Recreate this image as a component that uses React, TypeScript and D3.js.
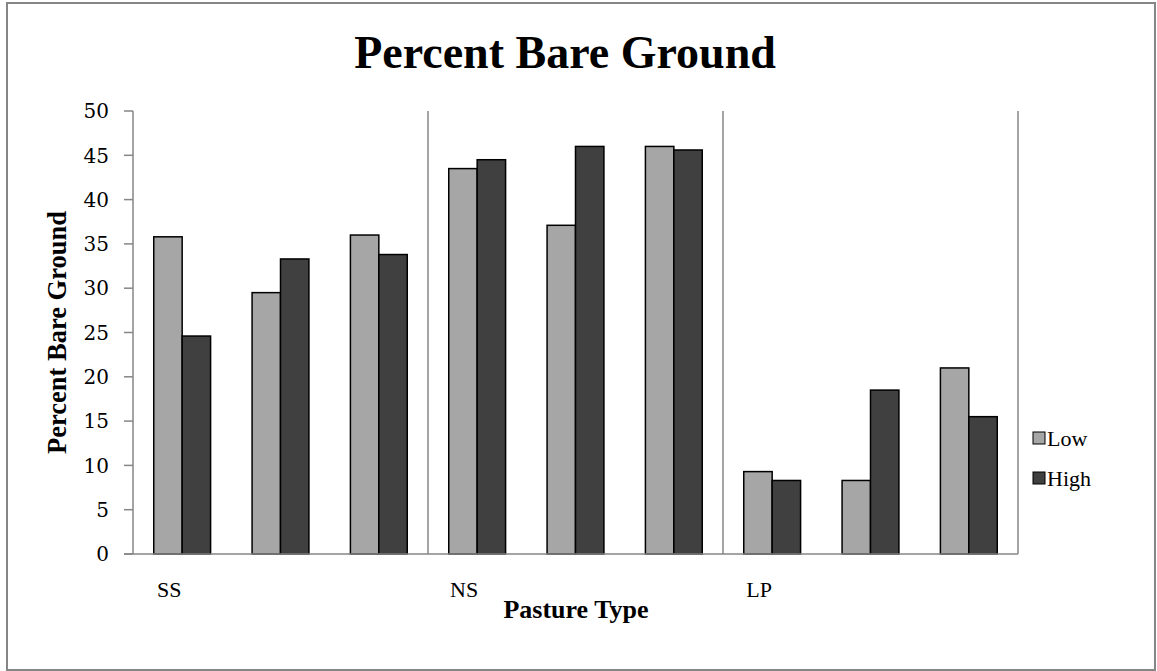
import React from "react";
import * as d3 from "d3";

const categoryLabels = ["SS", "", "", "NS", "", "", "LP", "", ""];
const lowValues = [35.8, 29.5, 36.0, 43.5, 37.1, 46.0, 9.3, 8.3, 21.0];
const highValues = [24.6, 33.3, 33.8, 44.5, 46.0, 45.6, 8.3, 18.5, 15.5];
const yTicks = [0, 5, 10, 15, 20, 25, 30, 35, 40, 45, 50];
const seriesNames = ["Low", "High"];
const seriesColors = ["#A6A6A6", "#404040"];

const W = 1157;
const H = 671;
const plot = { left: 133, right: 1018, top: 111, bottom: 554 };

export default function App() {
  const idx = categoryLabels.map((_, i) => i);
  const x = d3.scaleBand<number>().domain(idx).range([plot.left, plot.right]).paddingInner(0).paddingOuter(0);
  const inner = d3
    .scaleBand<number>()
    .domain([0, 1])
    .range([0, x.bandwidth()])
    .paddingOuter(0.73)
    .paddingInner(0);
  const y = d3.scaleLinear().domain([0, 50]).range([plot.bottom, plot.top]);
  const series = [lowValues, highValues];
  const sepIdx = idx.filter((i) => i % 3 === 0 && i > 0);
  const serif = "'Liberation Serif', 'Times New Roman', serif";
  const tickFont = "'DejaVu Serif', serif";
  const axisColor = "#868686";

  return (
    <svg width={W} height={H} style={{ position: "absolute", left: 0, top: 0, background: "#fff" }}>
      <rect x={7} y={3} width={1148} height={667} fill="#fff" stroke={axisColor} strokeWidth={2} />
      <text x={565} y={68} textAnchor="middle" fontFamily={serif} fontWeight="bold" fontSize={46}>
        Percent Bare Ground
      </text>
      {/* separators */}
      {sepIdx.map((i) => (
        <line key={i} x1={x(i)!} x2={x(i)!} y1={plot.top} y2={plot.bottom} stroke={axisColor} strokeWidth={1.5} />
      ))}
      <line x1={plot.right} x2={plot.right} y1={plot.top} y2={plot.bottom} stroke={axisColor} strokeWidth={1.5} />
      {/* y axis */}
      <line x1={plot.left} x2={plot.left} y1={plot.top} y2={plot.bottom} stroke={axisColor} strokeWidth={1.5} />
      {yTicks.map((t) => (
        <g key={t}>
          <line x1={plot.left - 9} x2={plot.left} y1={y(t)} y2={y(t)} stroke={axisColor} strokeWidth={1.5} />
          <text x={109} y={y(t)} dy="0.36em" textAnchor="end" fontFamily={tickFont} fontSize={20}>
            {t}
          </text>
        </g>
      ))}
      {/* bars */}
      {idx.map((i) =>
        series.map((vals, s) => (
          <rect
            key={`${i}-${s}`}
            x={x(i)! + inner(s)!}
            y={y(vals[i])}
            width={inner.bandwidth()}
            height={y(0) - y(vals[i])}
            fill={seriesColors[s]}
            stroke="#000"
            strokeWidth={1.5}
          />
        ))
      )}
      {/* x axis */}
      <line x1={plot.left - 9} x2={plot.right} y1={plot.bottom} y2={plot.bottom} stroke={axisColor} strokeWidth={1.5} />
      {idx.map((i) =>
        categoryLabels[i] ? (
          <text key={i} x={x(i)! + x.bandwidth() / 2 - 13} y={597} textAnchor="middle" fontFamily={serif} fontSize={22}>
            {categoryLabels[i]}
          </text>
        ) : null
      )}
      <text x={576} y={618} textAnchor="middle" fontFamily={serif} fontWeight="bold" fontSize={26}>
        Pasture Type
      </text>
      <text
        transform={`translate(66, ${(plot.top + plot.bottom) / 2}) rotate(-90)`}
        textAnchor="middle"
        fontFamily={serif}
        fontWeight="bold"
        fontSize={26.5}
      >
        Percent Bare Ground
      </text>
      {/* legend */}
      {seriesNames.map((n, s) => (
        <g key={n} transform={`translate(1033, ${438 + s * 40})`}>
          <rect x={0} y={-6} width={12} height={12} fill={seriesColors[s]} stroke="#000" strokeWidth={1} />
          <text x={14} y={0} dy="0.35em" fontFamily={serif} fontSize={22}>
            {n}
          </text>
        </g>
      ))}
    </svg>
  );
}
